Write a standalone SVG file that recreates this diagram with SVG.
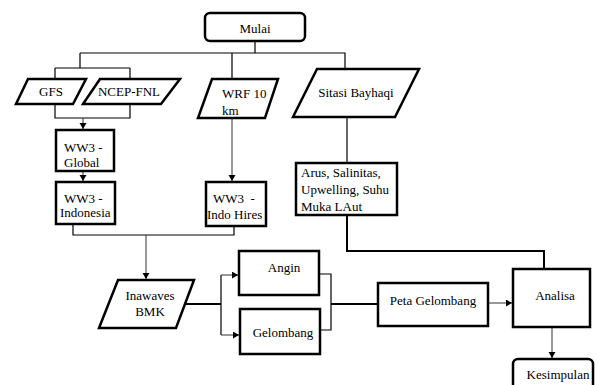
<svg xmlns="http://www.w3.org/2000/svg" width="598" height="385" viewBox="0 0 598 385">
<defs>
<style>
.box{fill:#fff;stroke:#000;stroke-width:2.5}
.t{font-family:"Liberation Serif","Times New Roman",serif;font-size:13px;fill:#000}
.c{fill:none;stroke:#000;stroke-width:1.2}
.ca{fill:none;stroke:#333;stroke-width:1}
.ck{fill:none;stroke:#000;stroke-width:2}
</style>
<marker id="ah" markerUnits="userSpaceOnUse" markerWidth="8" markerHeight="8" refX="6" refY="3.5" orient="auto">
<path d="M0,0 L6,3.5 L0,7 Z" fill="#000"/>
</marker>
</defs>
<rect width="598" height="385" fill="#fff"/>
<g id="connectors">
<path class="c" d="M255,41 V53 M80,53 H345 V69 M80,53 V68 M55,68 H130 M55,68 V79 M130,68 V79 M232,53 V79"/>
<path class="c" d="M55,104 V118 H130 V104"/>
<path class="ca" d="M83,118 V129" marker-end="url(#ah)"/>
<path class="ca" d="M83,171 V181" marker-end="url(#ah)"/>
<path class="ca" d="M232,118 V181" marker-end="url(#ah)"/>
<path class="c" d="M347,117 V163"/>
<path class="c" d="M73,224 V235 H234 V226"/>
<path class="ca" d="M146,235 V279" marker-end="url(#ah)"/>
<path class="ck" d="M186,304 H221"/>
<path class="c" d="M221,275 V335"/>
<path class="ca" d="M221,275 H238" marker-end="url(#ah)"/>
<path class="ca" d="M221,335 H239" marker-end="url(#ah)"/>
<path class="c" d="M319,274 H331 V330 H320"/>
<path class="ck" d="M331,304 H378"/>
<path class="ck" d="M347,215 V251 H544 V269"/>
<path class="ca" d="M488,303 H512" marker-end="url(#ah)"/>
<path class="ca" d="M552,327 V358" marker-end="url(#ah)"/>
</g>
<g id="mulai"><rect class="box" x="205" y="13" width="100" height="28" rx="5"/><text class="t" x="255" y="33" text-anchor="middle">Mulai</text></g>
<g id="gfs"><polygon class="box" points="28,79 86,79 73,104 16,104"/><text class="t" x="51" y="96" text-anchor="middle">GFS</text></g>
<g id="ncep"><polygon class="box" points="100,79 180,79 161,104 83,104"/><text class="t" x="129" y="96" text-anchor="middle">NCEP-FNL</text></g>
<g id="wrf"><polygon class="box" points="212,79 278,79 265,118 198,118"/><text class="t" x="222" y="98">WRF 10</text><text class="t" x="222" y="115">km</text></g>
<g id="sitasi"><polygon class="box" points="317,69 419,69 395,117 293,117"/><text class="t" x="356" y="97" text-anchor="middle">Sitasi Bayhaqi</text></g>
<g id="ww3global"><rect class="box" x="56" y="130" width="58" height="41"/><text class="t" x="64" y="152">WW3 -</text><text class="t" x="64" y="167">Global</text></g>
<g id="ww3indonesia"><rect class="box" x="56" y="182" width="59" height="42"/><text class="t" x="64" y="203">WW3 -</text><text class="t" x="60" y="217">Indonesia</text></g>
<g id="ww3hires"><rect class="box" x="206" y="182" width="60" height="44"/><text class="t" x="213" y="203" xml:space="preserve">WW3  -</text><text class="t" x="207" y="219">Indo Hires</text></g>
<g id="arus"><rect class="box" x="296" y="163" width="101" height="52"/><text class="t" x="301" y="177">Arus, Salinitas,</text><text class="t" x="301" y="194">Upwelling, Suhu</text><text class="t" x="301" y="211">Muka LAut</text></g>
<g id="inawaves"><polygon class="box" points="118,280 194,280 176,328 99,328"/><text class="t" x="150" y="300" text-anchor="middle">Inawaves</text><text class="t" x="150" y="316" text-anchor="middle">BMK</text></g>
<g id="angin"><rect class="box" x="239" y="251" width="80" height="44"/><text class="t" x="284" y="272" text-anchor="middle">Angin</text></g>
<g id="gelombang"><rect class="box" x="240" y="309" width="80" height="45"/><text class="t" x="283" y="337" text-anchor="middle">Gelombang</text></g>
<g id="peta"><rect class="box" x="378" y="283" width="110" height="43"/><text class="t" x="433" y="305" text-anchor="middle">Peta Gelombang</text></g>
<g id="analisa"><rect class="box" x="513" y="269" width="77" height="58"/><text class="t" x="555" y="300" text-anchor="middle">Analisa</text></g>
<g id="kesimpulan"><rect class="box" x="513" y="359" width="80" height="40" rx="5"/><text class="t" x="558" y="379" text-anchor="middle">Kesimpulan</text></g>
</svg>
